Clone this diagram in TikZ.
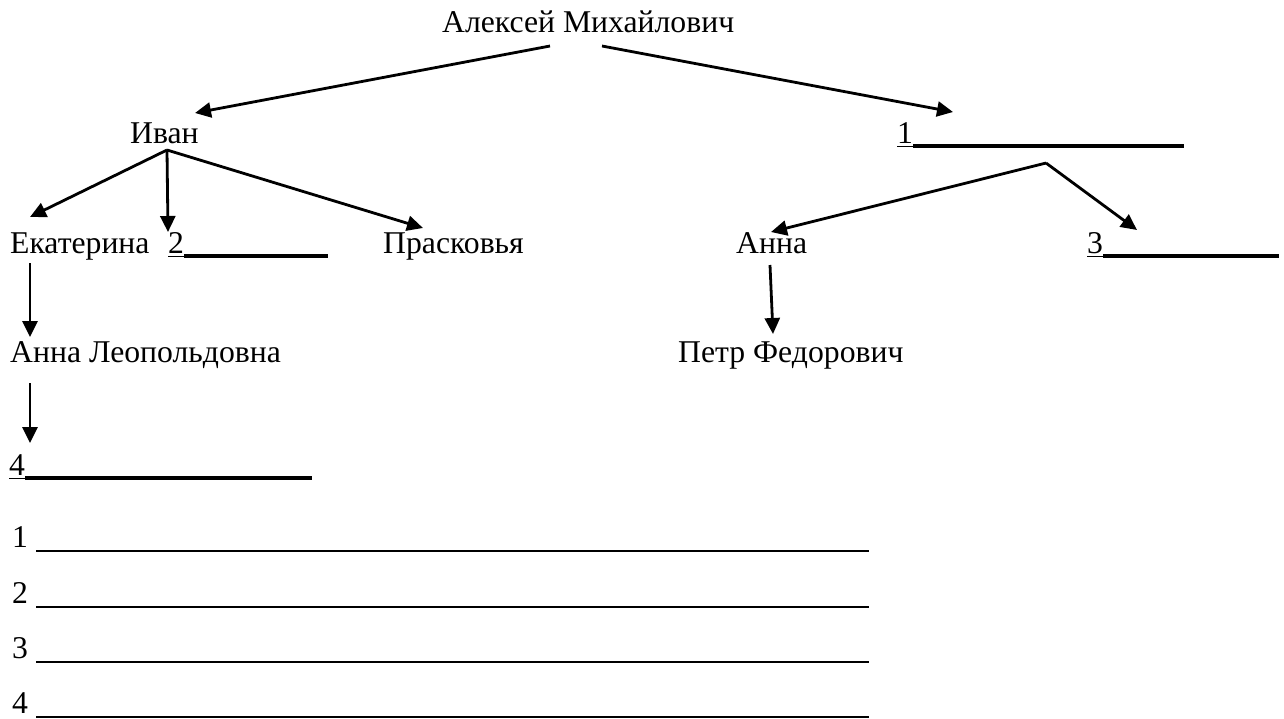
\documentclass[tikz,border=0pt]{standalone}
\usepackage{fontspec}
\setmainfont{Liberation Serif}
\usetikzlibrary{arrows.meta}
\begin{document}
\begin{tikzpicture}[x=1pt,y=-1pt,
  lbl/.style={anchor=base west, inner sep=0pt, font=\fontsize{31.7}{38}\selectfont},
  arr/.style={line width=2.8pt, -{Triangle[length=16pt,width=15pt]}},
  thinline/.style={line width=1.4pt},
  boldline/.style={line width=3.2pt},
  answerline/.style={line width=2.4pt}]
\useasboundingbox (0,0) rectangle (1284,718);

% nodes
\node[lbl] (alexey) at (442,32) {Алексей Михайлович};
\node[lbl] (ivan) at (130,143) {Иван};
\node[lbl] (n1) at (897,143) {1};
\node[lbl] (ekat) at (10,253) {Екатерина};
\node[lbl] (n2) at (168,253) {2};
\node[lbl] (prask) at (383,253) {Прасковья};
\node[lbl] (anna) at (736,253) {Анна};
\node[lbl] (n3) at (1087,253) {3};
\node[lbl] (annaL) at (10,362) {Анна Леопольдовна};
\node[lbl] (petr) at (678,362) {Петр Федорович};
\node[lbl] (n4) at (9,475) {4};

\node[lbl] (q1) at (12,547) {1};
\node[lbl] (q2) at (12,603) {2};
\node[lbl] (q3) at (12,658) {3};
\node[lbl] (q4) at (12,713) {4};

% underlines of the blanks
\foreach \n/\len in {n1/271, n2/144, n3/176, n4/287}{
  \draw[thinline] ([yshift=-3.5pt]\n.base west) -- ([yshift=-3.5pt]\n.base east);
  \draw[boldline] ([yshift=-3pt]\n.base east) -- ++(\len,0);
}
\foreach \q in {q1,q2,q3,q4}{
  \draw[answerline] ([xshift=8pt,yshift=-4pt]\q.base east) -- ++(833,0);
}

% connector end points
\coordinate (aL) at (550,46);
\coordinate (aR) at (602,46);
\coordinate (ivanIn) at (195,113);
\coordinate (oneIn) at (953,112);
\coordinate (ivanOut) at (167,150);
\coordinate (ekatIn) at (30,217);
\coordinate (twoIn) at (168,232);
\coordinate (praskIn) at (423,228);
\coordinate (oneOut) at (1046,163);
\coordinate (annaIn) at (771,232);
\coordinate (threeIn) at (1137,230);
\coordinate (ekatOut) at (30,263);
\coordinate (annaLIn) at (30,337);
\coordinate (annaLOut) at (30,383);
\coordinate (fourIn) at (30,443);
\coordinate (annaOut) at (770,265);
\coordinate (petrIn) at (773,334);

% arrows
\draw[arr] (aL) -- (ivanIn);
\draw[arr] (aR) -- (oneIn);
\draw[arr] (ivanOut) -- (ekatIn);
\draw[arr] (ivanOut) -- (twoIn);
\draw[arr] (ivanOut) -- (praskIn);
\draw[arr] (oneOut) -- (annaIn);
\draw[arr] (oneOut) -- (threeIn);
\draw[arr] (ekatOut) -- (annaLIn);
\draw[arr] (annaLOut) -- (fourIn);
\draw[arr] (annaOut) -- (petrIn);
\end{tikzpicture}
\end{document}
